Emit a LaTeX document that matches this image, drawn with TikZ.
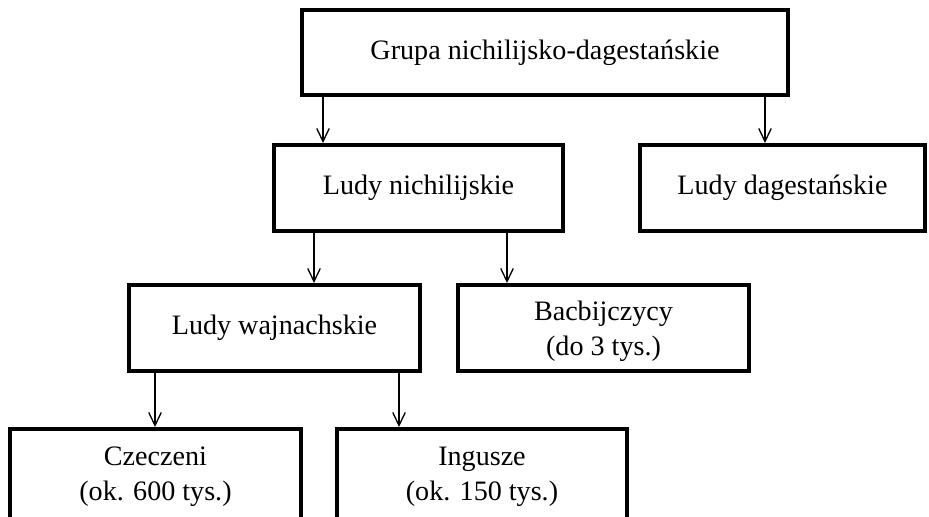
\documentclass[tikz,border=0pt]{standalone}
\usepackage{fontspec}
\setmainfont{Liberation Serif}
\usetikzlibrary{arrows.meta}
\begin{document}
\begin{tikzpicture}[
    box/.style={draw,line width=2.3pt,minimum height=1.72cm,align=center,
        font=\fontsize{16}{20}\selectfont},
    twoline/.style={box,text depth=0pt},
    arr/.style={-{Straight Barb[length=2.6mm,width=2.5mm]},line width=.75pt}]
                \useasboundingbox (0,0) rectangle (18.58,10.32);
                % boxes
                \node[box,minimum width=9.72cm,minimum height=1.70cm] (grupa) at (10.90,9.27) {Grupa nichilijsko-dagestańskie};
                \node[box,minimum width=5.78cm] (nich) at (8.37,6.56) {Ludy nichilijskie};
                \node[box,minimum width=5.70cm] (dag) at (15.65,6.56) {Ludy dagestańskie};
                \node[box,minimum width=5.82cm] (wajn) at (5.49,3.76) {Ludy wajnachskie};
                \node[twoline,minimum width=5.82cm] (bacb) at (12.07,3.76) {Bacbijczycy\\(do 3 tys.)};
                \node[twoline,minimum width=5.82cm,minimum height=1.80cm] (czec) at (3.11,0.84) {Czeczeni\\(ok. 600 tys.)};
                \node[twoline,minimum width=5.80cm,minimum height=1.80cm] (ingu) at (9.64,0.84) {Ingusze\\(ok. 150 tys.)};
                % arrows
                \draw[arr] (grupa.south -| 6.46,0) -- (nich.north -| 6.46,0);
                \draw[arr] (grupa.south -| 15.30,0) -- (dag.north -| 15.30,0);
                \draw[arr] (nich.south -| 6.28,0) -- (wajn.north -| 6.28,0);
                \draw[arr] (nich.south -| 10.14,0) -- (bacb.north -| 10.14,0);
                \draw[arr] (wajn.south -| 3.10,0) -- (czec.north -| 3.10,0);
                \draw[arr] (wajn.south -| 7.98,0) -- (ingu.north -| 7.98,0);
\end{tikzpicture}
\end{document}
